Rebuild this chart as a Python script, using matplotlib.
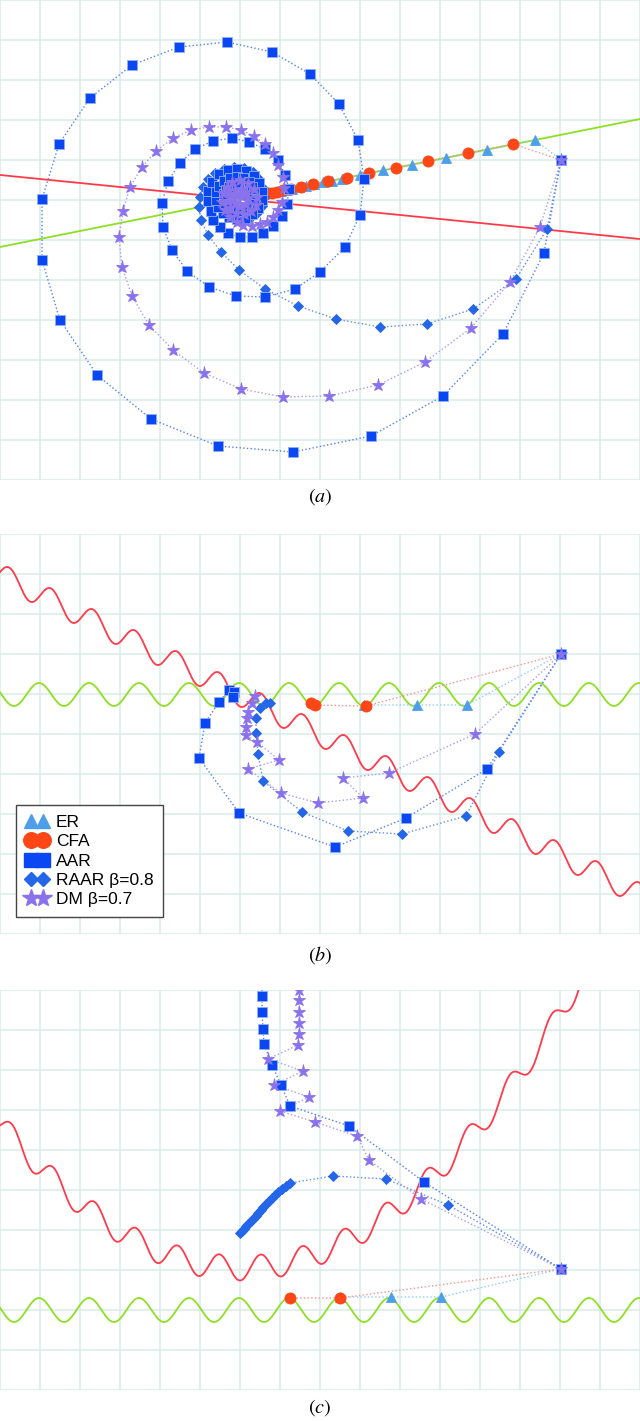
import numpy as np
import matplotlib.pyplot as plt
from matplotlib.lines import Line2D

plt.rcParams['font.family'] = ['Liberation Sans', 'DejaVu Sans']
plt.rcParams['mathtext.fontset'] = 'stix'

W, H = 640, 1421

# ---- panel (a): two straight lines, coordinates in original pixels (y down)
a_red_x = [0, 640]
a_red_y = [175, 239]
a_green_x = [0, 640]
a_green_y = [247, 119]

a_er_x = [561, 535, 487, 446, 412, 383, 360, 342, 332, 323, 314, 306, 299, 292, 286, 281]
a_er_y = [160, 140, 150, 158, 165, 170, 175, 179, 181, 182, 184, 186, 187, 189, 190, 191]

a_cfa_x = [561, 513, 468, 428, 396, 369, 347, 328, 313, 301, 291, 283, 277, 272, 268, 265, 262, 260, 258, 257, 256]
a_cfa_y = [160, 144, 153, 161, 168, 173, 178, 181, 184, 187, 189, 190, 192, 193, 193, 194, 195, 195, 195, 196, 196]

a_aar_x = [561, 544, 503, 443, 371, 293, 218, 151, 97, 60, 42, 42, 59, 90, 132, 179, 227, 272, 310, 339,
           358, 364, 360, 345, 320, 295, 265, 236, 209, 187, 172, 163, 162, 168, 180, 195, 213, 232, 249, 265,
           278, 285, 289, 287, 282, 273, 263, 252, 240, 228, 220, 213,
           211, 208, 208, 212, 219, 228, 237, 246, 254, 259, 262, 262, 258, 252, 245, 237, 229, 223,
           218, 216, 216, 219, 224, 230, 237, 243, 249, 252, 254, 254, 251, 247, 242, 237, 232, 228,
           225, 224, 224, 226, 229, 233, 237]
a_aar_y = [160, 253, 334, 396, 436, 452, 446, 419, 375, 320, 260, 199, 144, 98, 65, 47, 42, 52, 74, 104,
           140, 179, 215, 247, 272, 289, 297, 296, 287, 271, 250, 227, 203, 181, 163, 149, 141, 138, 142, 149,
           160, 175, 189, 204, 216, 226, 233, 237, 237, 233, 227, 220,
           211, 201, 191, 182, 174, 170, 169, 171, 176, 183, 192, 200, 208, 214, 218, 219, 217, 213,
           207, 200, 192, 186, 181, 178, 177, 178, 182, 187, 193, 199, 204, 208, 211, 211, 210, 207,
           203, 198, 194, 190, 187, 185, 185]

a_raar_x = [561, 547, 516, 473, 427, 380, 336, 298, 265, 239, 221, 208, 201, 199, 200, 203, 208, 215, 224, 234,
            244, 253, 259, 263, 264, 262, 257, 250, 242, 234, 227, 222, 220, 222, 227, 234, 241, 246, 248]
a_raar_y = [160, 229, 279, 309, 324, 327, 319, 306, 289, 270, 252, 235, 220, 207, 197, 187, 179, 173, 169, 167,
            168, 172, 179, 188, 197, 206, 213, 218, 220, 219, 215, 209, 201, 193, 187, 184, 185, 190, 197]

a_dm_x = [561, 540, 510, 471, 425, 378, 329, 283, 241, 204, 173, 149, 132, 122, 119, 123, 130, 142, 156, 173,
          191, 209, 226, 241, 254, 265, 273, 278, 283, 284, 282, 278, 273, 267, 260, 252, 243, 237, 230, 225,
          222, 223, 227, 232, 240, 248, 254, 257, 256, 251, 244, 236, 230, 228, 230, 235, 241, 246, 248, 246,
          240, 235, 234, 237, 241]
a_dm_y = [160, 227, 282, 328, 362, 385, 396, 397, 389, 373, 350, 325, 296, 267, 237, 211, 187, 167, 151, 138,
          130, 127, 127, 130, 136, 144, 153, 165, 177, 188, 202, 210, 217, 222, 224, 226, 225, 222, 217, 210,
          202, 193, 187, 182, 180, 183, 189, 197, 205, 211, 214, 213, 208, 201, 194, 190, 189, 192, 198, 204,
          206, 203, 198, 195, 196]

# ---- panel (b): tilted wavy curve and horizontal wavy curve
b_red = dict(offset=574.75, slope=0.5, amp=11.8, period=42, phase=9)
b_green = dict(level=694.5, amp=11.5, period=50, phase=39)

b_er_x = [561, 467, 417, 364]
b_er_y = [654, 705, 705, 705]
b_cfa_x = [561, 366, 315, 311]
b_cfa_y = [654, 706, 705, 703]
b_aar_x = [561, 487, 406, 335, 239, 199, 205, 219, 229, 234, 233]
b_aar_y = [654, 769, 818, 847, 813, 758, 723, 702, 690, 692, 697]
b_raar_x = [561, 499, 466, 402, 348, 302, 263, 258, 256, 256, 260, 266, 270]
b_raar_y = [654, 752, 816, 834, 831, 812, 781, 754, 733, 718, 708, 703, 703]
b_dm_x = [561, 475, 389, 343, 363, 318, 281, 248, 279, 257, 246, 246, 247, 248, 252, 255]
b_dm_y = [654, 734, 773, 778, 798, 803, 793, 769, 760, 742, 735, 727, 718, 712, 703, 696]

# ---- panel (c): bowl-shaped wavy curve and horizontal wavy curve
c_red = dict(bottom=1268, curv=0.0025, centre=241, amp=12.5, period=41.5, phase=240)
c_green = dict(level=1310, amp=12, period=50, phase=39)

c_er_x = [561, 441, 391, 340]
c_er_y = [1269, 1297, 1297, 1297]
c_cfa_x = [561, 340, 290]
c_cfa_y = [1269, 1298, 1298]
c_aar_x = [561, 424, 349, 290, 281, 272, 264, 263, 262, 262, 262]
c_aar_y = [1269, 1182, 1126, 1106, 1085, 1065, 1044, 1029, 1012, 996, 978]
c_raar_x = [561, 448, 386, 333, 290, 286, 282, 278, 275, 272, 269, 266, 263, 261, 258, 256, 253, 251, 248, 246, 244, 242, 240]
c_raar_y = [1269, 1205, 1179, 1176, 1183, 1186, 1189, 1192, 1195, 1198, 1201, 1204, 1207, 1210, 1213, 1216, 1219, 1221, 1224, 1226, 1229, 1231, 1233]
c_dm_x = [561, 421, 369, 357, 315, 280, 309, 274, 303, 268, 298, 299, 299, 299, 299, 299, 299]
c_dm_y = [1269, 1199, 1160, 1136, 1122, 1111, 1097, 1085, 1071, 1059, 1045, 1034, 1023, 1012, 1000, 990, 976]

labels = ['ER', 'CFA', 'AAR', 'RAAR β=0.8', 'DM β=0.7']

styles = {
    'ER':   dict(m='^', ms=7, c='#4e9fea', ec='#4e9fea', lc='#8fcaf2', z=4, skip=True),
    'CFA':  dict(m='o', ms=8, c='#ff4616', ec='#ff4616', lc='#f3928f', z=5, skip=True),
    'AAR':  dict(m='s', ms=7.5, c='#0a47f2', ec='#8fb0f8', lc='#4f7ff0', z=6, skip=False),
    'RAAR': dict(m='D', ms=5, c='#2366ea', ec='#2366ea', lc='#5d8cf0', z=5.5, skip=True),
    'DM':   dict(m='*', ms=9.5, c='#8a72ec', ec='#8a72ec', lc='#a99af0', z=8, skip=False),
}

fig = plt.figure(figsize=(W / 100, H / 100), dpi=100)


def make_panel(top, bottom):
    ax = fig.add_axes([0, 1 - bottom / H, 1, (bottom - top) / H])
    ax.set_xlim(0, W)
    ax.set_ylim(bottom, top)
    ax.set_xticks(np.arange(0, W + 1, 40))
    ax.set_yticks(np.arange(top, bottom + 1, 40))
    ax.grid(True, color='#d8ece8', lw=1.1)
    ax.set_axisbelow(True)
    ax.tick_params(length=0, labelbottom=False, labelleft=False)
    for s in ax.spines.values():
        s.set_visible(False)
    return ax


def traj(ax, x, y, name):
    st = styles[name]
    ax.plot(x, y, ls=':', lw=1.0, color=st['lc'], zorder=3)
    every = slice(1, None) if st['skip'] else None
    ax.plot(x, y, ls='none', marker=st['m'], ms=st['ms'], mfc=st['c'], mec=st['ec'],
            mew=0.6, markevery=every, zorder=st['z'])


def draw_all(ax, er, cfa, aar, raar, dm):
    traj(ax, *er, 'ER')
    traj(ax, *cfa, 'CFA')
    traj(ax, *aar, 'AAR')
    traj(ax, *raar, 'RAAR')
    traj(ax, *dm, 'DM')


RED = '#ff3a4a'
GREEN = '#8ee024'
xs = np.linspace(-10, 650, 2000)

# (a)
ax_a = make_panel(0, 480)
ax_a.plot(a_red_x, a_red_y, color=RED, lw=1.3, zorder=2)
ax_a.plot(a_green_x, a_green_y, color=GREEN, lw=1.3, zorder=2)
draw_all(ax_a, (a_er_x, a_er_y), (a_cfa_x, a_cfa_y), (a_aar_x, a_aar_y),
         (a_raar_x, a_raar_y), (a_dm_x, a_dm_y))

# (b)
ax_b = make_panel(534, 934)
yr = (b_red['offset'] + b_red['slope'] * xs
      - b_red['amp'] * np.cos(2 * np.pi * (xs - b_red['phase']) / b_red['period']))
yg = b_green['level'] - b_green['amp'] * np.cos(2 * np.pi * (xs - b_green['phase']) / b_green['period'])
ax_b.plot(xs, yr, color=RED, lw=1.3, zorder=2)
ax_b.plot(xs, yg, color=GREEN, lw=1.3, zorder=2)
draw_all(ax_b, (b_er_x, b_er_y), (b_cfa_x, b_cfa_y), (b_aar_x, b_aar_y),
         (b_raar_x, b_raar_y), (b_dm_x, b_dm_y))

handles = []
for name in ['ER', 'CFA', 'AAR', 'RAAR', 'DM']:
    st = styles[name]
    handles.append(Line2D([], [], ls='none', marker=st['m'], ms=st['ms'] * 1.4,
                          mfc=st['c'], mec=st['c']))
leg = ax_b.legend(handles, labels, loc='lower left', bbox_to_anchor=(16 / W, (934 - 917) / 400),
                  borderaxespad=0, numpoints=2, handlelength=1.3, handletextpad=0.45,
                  labelspacing=0.24, fontsize=12.5, fancybox=False, framealpha=1,
                  edgecolor='#444444', borderpad=0.55)
leg.get_frame().set_linewidth(1.0)
leg.set_zorder(10)

# (c)
ax_c = make_panel(990, 1390)
yr = (c_red['bottom'] - c_red['curv'] * (xs - c_red['centre']) ** 2
      + c_red['amp'] * np.cos(2 * np.pi * (xs - c_red['phase']) / c_red['period']))
yg = c_green['level'] - c_green['amp'] * np.cos(2 * np.pi * (xs - c_green['phase']) / c_green['period'])
ax_c.plot(xs, yr, color=RED, lw=1.3, zorder=2)
ax_c.plot(xs, yg, color=GREEN, lw=1.3, zorder=2)
draw_all(ax_c, (c_er_x, c_er_y), (c_cfa_x, c_cfa_y), (c_aar_x, c_aar_y),
         (c_raar_x, c_raar_y), (c_dm_x, c_dm_y))

for lab, ypix in [('a', 497), ('b', 955), ('c', 1408)]:
    fig.text(0.5, 1 - ypix / H, r'$(%s)$' % lab, ha='center', va='center', fontsize=14.5)

fig.savefig('out.png', dpi=100)
